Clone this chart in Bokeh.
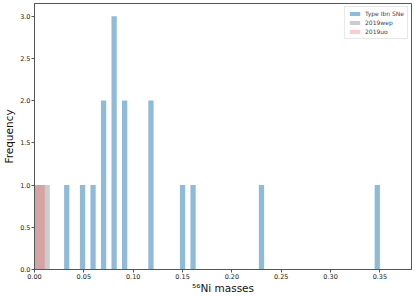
import numpy as np
from bokeh.plotting import figure
from bokeh.models import Range1d, FixedTicker, PrintfTickFormatter, Legend, LegendItem
from bokeh.embed import file_html
from bokeh.resources import INLINE

# 56Ni masses of Type Ibn SNe
ibn_masses = [0.03, 0.048, 0.058, 0.07, 0.07, 0.08, 0.08, 0.08, 0.09, 0.09,
              0.12, 0.12, 0.15, 0.16, 0.23, 0.35]
ibn_bins = 60
# single-bin histograms of the two objects
wep_edges = [0.0, 0.0155]
wep_counts = [1]
uo_edges = [0.0, 0.0104]
uo_counts = [1]

x_ticks = [0.0, 0.05, 0.10, 0.15, 0.20, 0.25, 0.30, 0.35]
y_ticks = [0.0, 0.5, 1.0, 1.5, 2.0, 2.5, 3.0]

counts, edges = np.histogram(ibn_masses, bins=ibn_bins)
mask = counts > 0

FONT = "DejaVu Sans"
p = figure(width=415, height=296, output_backend="svg", toolbar_location=None,
           x_range=Range1d(0, 0.382), y_range=Range1d(0, 3.15),
           min_border_left=0, min_border_right=4, min_border_top=3, min_border_bottom=0)

r_ibn = p.quad(left=edges[:-1][mask], right=edges[1:][mask], bottom=0, top=counts[mask],
               fill_color="#1f77b4", fill_alpha=0.5, line_color=None)
r_wep = p.quad(left=wep_edges[:-1], right=wep_edges[1:], bottom=0, top=wep_counts,
               fill_color="gray", fill_alpha=0.4, line_color=None)
r_uo = p.quad(left=uo_edges[:-1], right=uo_edges[1:], bottom=0, top=uo_counts,
              fill_color="red", fill_alpha=0.2, line_color=None)

legend = Legend(items=[LegendItem(label="Type Ibn SNe", renderers=[r_ibn]),
                       LegendItem(label="2019wep", renderers=[r_wep]),
                       LegendItem(label="2019uo", renderers=[r_uo])],
                location="top_right")
legend.label_text_font = FONT
legend.label_text_font_size = "6px"
legend.label_height = 6
legend.glyph_height = 5
legend.glyph_width = 13
legend.spacing = 2
legend.padding = 3
legend.margin = 3
legend.label_standoff = 4
legend.border_line_color = "#d0d0d0"
legend.border_line_width = 1
legend.background_fill_alpha = 0.8
p.add_layout(legend)

p.xgrid.visible = False
p.ygrid.visible = False
p.outline_line_color = "#555555"
p.outline_line_width = 1

for ax in (p.xaxis[0], p.yaxis[0]):
    ax.axis_line_color = "#555555"
    ax.major_tick_line_color = "#555555"
    ax.minor_tick_line_color = None
    ax.major_tick_out = 3
    ax.major_tick_in = 0
    ax.major_label_text_font = FONT
    ax.major_label_text_font_size = "6.5px"
    ax.major_label_text_color = "#222222"
    ax.axis_label_text_font = FONT
    ax.axis_label_text_font_size = "10.5px"
    ax.axis_label_text_font_style = "normal"
    ax.axis_label_text_color = "#111111"
    ax.major_label_standoff = 1

p.xaxis[0].ticker = FixedTicker(ticks=x_ticks)
p.xaxis[0].formatter = PrintfTickFormatter(format="%.2f")
p.yaxis[0].ticker = FixedTicker(ticks=y_ticks)
p.yaxis[0].formatter = PrintfTickFormatter(format="%.1f")
p.xaxis[0].axis_label = "\u2075\u2076Ni masses"
p.yaxis[0].axis_label = "Frequency"
p.xaxis[0].axis_label_standoff = 0
p.yaxis[0].axis_label_standoff = 2

open("out.html", "w").write(file_html(p, INLINE))
